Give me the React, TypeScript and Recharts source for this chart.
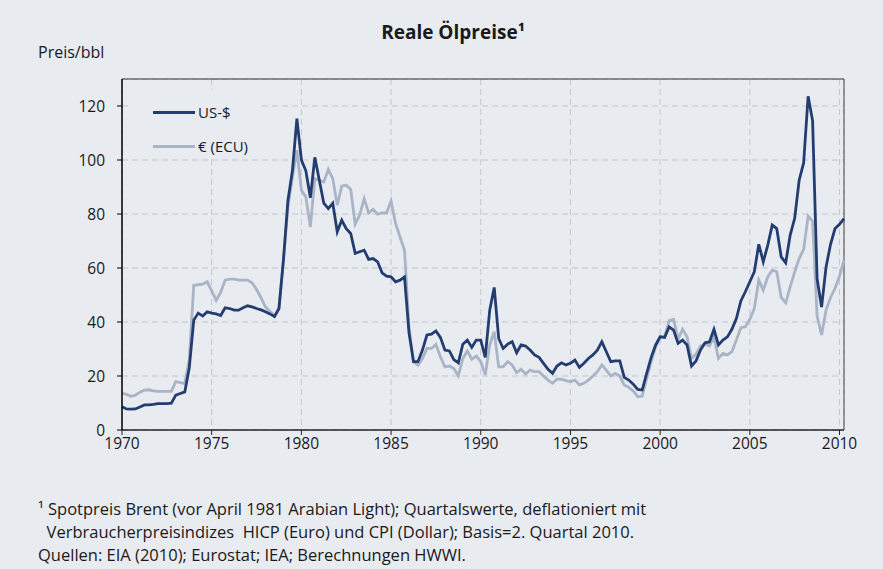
import { LineChart, Line, XAxis, YAxis, CartesianGrid, ReferenceLine, Legend } from 'recharts';

// Reale Ölpreise, Quartalswerte 1970 Q1 – 2010 Q2 (Preis je Barrel, Basis 2. Quartal 2010)
const START_YEAR = 1970;

const US_DOLLAR = [
  8.6, 7.8, 7.7, 7.8, // 1970
  8.5, 9.3, 9.3, 9.5,
  9.8, 9.8, 9.8, 9.9,
  12.9, 13.5, 14.1, 23,
  40.7, 43.3, 42.2, 43.8,
  43.3, 43, 42.4, 45.3, // 1975
  45, 44.4, 44.4, 45.3,
  46, 45.6, 45, 44.5,
  43.8, 43, 42, 45,
  63, 85, 96, 115.3,
  100, 96, 86, 101, // 1980
  92.5, 84, 82, 84,
  73.4, 77.7, 74.6, 72.8,
  65.4, 66, 66.6, 63.2,
  63.5, 62.3, 58.2, 57,
  56.7, 54.9, 55.5, 56.7, // 1985
  36, 25.3, 25.3, 29.6,
  35.2, 35.5, 36.7, 34.3,
  29.6, 29.3, 26.1, 24.9,
  31.8, 33.3, 30.6, 33.3,
  33.3, 26.9, 44.4, 52.8, // 1990
  33.9, 30.2, 31.8, 32.7,
  28.6, 31.5, 31.1, 29.6,
  27.8, 26.9, 24.7, 22.5,
  21, 23.7, 24.9, 24.1,
  24.7, 25.9, 23.2, 24.7, // 1995
  26.5, 27.8, 29.6, 32.7,
  29, 25.3, 25.6, 25.6,
  19.5, 18.5, 17, 15,
  14.8, 21, 26.9, 31.5,
  34.5, 34.3, 38.2, 37, // 2000
  32.1, 33.3, 31.5, 23.7,
  25.6, 29.6, 32.3, 32.6,
  37.3, 31.5, 33.3, 34.5,
  37.3, 41.3, 47.8, 51.2,
  54.9, 58.6, 68.8, 62.3, // 2005
  68.5, 75.9, 74.6, 64.1,
  61.9, 72.2, 78.4, 92.5,
  98.9, 123.6, 114.5, 56,
  45.5, 60.4, 68.8, 74.6,
  76.2, 78.3, // 2010
];

const EURO_ECU = [
  13.7, 13.2, 12.5, 12.9, // 1970
  14, 14.8, 14.9, 14.5,
  14.3, 14.3, 14.3, 14.3,
  18, 17.5, 17.2, 26,
  53.5, 53.8, 54, 54.9,
  51.5, 48, 51, 55.5, // 1975
  55.9, 55.9, 55.5, 55.5,
  55.5, 54.5, 52, 49,
  45.5, 44, 42.2, 45,
  63, 82.6, 93.7, 103.6,
  88.8, 86.3, 75.2, 93.1, // 1980
  92.5, 91.9, 96.5, 93.1,
  83.3, 90.3, 90.7, 89.1,
  76.2, 79.6, 85.7, 80.4,
  81.7, 79.9, 80.4, 80.4,
  84.8, 76.5, 71.5, 66.6, // 1985
  38, 25.3, 24, 26.5,
  30.2, 30.2, 31.7, 27.1,
  23.4, 23.7, 22.8, 20,
  26.5, 29.3, 26.2, 27.4,
  25.3, 20.4, 31.5, 36.4, // 1990
  23.4, 23.4, 25.3, 24.1,
  21.2, 22.5, 20.7, 22.2,
  21.6, 21.6, 20, 18.5,
  17.3, 18.8, 18.8, 18.3,
  17.9, 18.5, 16.7, 17.3, // 1995
  18.5, 20, 21.6, 24.1,
  22.2, 20, 21, 20,
  16.7, 15.8, 14.5, 12.3,
  12.6, 19.1, 25.3, 30.8,
  34.5, 34.5, 40.5, 41, // 2000
  33.6, 37.3, 34.5, 26.5,
  28.1, 31.1, 31.8, 31.1,
  34.5, 26.5, 28.4, 27.8,
  29, 33.3, 37.9, 38.2,
  41, 45, 55.5, 51.8, // 2005
  56.7, 59.2, 58.6, 49.1,
  47.1, 53, 58.6, 63.5,
  66.9, 79.2, 77.4, 42.2,
  35.2, 44.4, 49.1, 52.4,
  57, 62.9, // 2010
];

const YEAR_TICKS = [1970, 1975, 1980, 1985, 1990, 1995, 2000, 2005, 2010];
const PRICE_TICKS = [0, 20, 40, 60, 80, 100, 120];
const LEGEND_ORDER = ['US-$', '€ (ECU)'];

const FOOTNOTES = [
  '¹ Spotpreis Brent (vor April 1981 Arabian Light); Quartalswerte, deflationiert mit',
  '\u00a0\u00a0Verbraucherpreisindizes\u00a0 HICP (Euro) und CPI (Dollar); Basis=2. Quartal 2010.',
  'Quellen: EIA (2010); Eurostat; IEA; Berechnungen HWWI.',
];

const BG = '#e8ebf0';
const DARK = '#243d70';
const LIGHT = '#a9b4c7';
const FONT = '"Open Sans", Lato, sans-serif';

const chartData = US_DOLLAR.map((usd, i) => ({
  t: START_YEAR + i / 4,
  usd,
  eur: EURO_ECU[i],
}));

// Legende wie im Original: Linie + Text, US-$ zuerst
function LegendBox({ payload }: any) {
  const items = [...(payload ?? [])].sort(
    (a: any, b: any) => LEGEND_ORDER.indexOf(a.value) - LEGEND_ORDER.indexOf(b.value),
  );
  return (
    <div style={{ background: BG, width: '100%', height: '100%', paddingTop: 5, boxSizing: 'border-box', fontFamily: FONT }}>
      {items.map((p: any) => (
        <div key={p.value} style={{ display: 'flex', alignItems: 'center', height: 34, fontSize: 15, color: '#1a1a1a' }}>
          <span style={{ display: 'inline-block', width: 42, height: 3, background: p.color, marginLeft: 25, marginRight: 3 }} />
          {p.value}
        </div>
      ))}
    </div>
  );
}

export default function App() {
  return (
    <div style={{ position: 'absolute', left: 0, top: 0, width: 883, height: 569, background: BG, fontFamily: FONT, color: '#1a1a1a', overflow: 'hidden' }}>
      <div style={{ position: 'absolute', left: 0, top: 0 }}>
        <LineChart width={883} height={569} data={chartData} margin={{ top: 79, right: 39, bottom: 109, left: 62 }}>
          <CartesianGrid stroke="#c3c6cc" strokeDasharray="6 4" />
          <XAxis
            type="number"
            dataKey="t"
            domain={[1970, 2010.25]}
            ticks={YEAR_TICKS}
            height={30}
            tickSize={5}
            tickMargin={3}
            axisLine={{ stroke: '#222', strokeWidth: 1.5 }}
            tickLine={{ stroke: '#222' }}
            tick={{ fontSize: 15.5, fill: '#1a1a1a', fontFamily: FONT }}
          />
          <YAxis
            type="number"
            domain={[0, 130]}
            ticks={PRICE_TICKS}
            width={60}
            tickSize={5}
            tickMargin={12}
            axisLine={{ stroke: '#000', strokeWidth: 1.5 }}
            tickLine={{ stroke: '#000' }}
            tick={{ fontSize: 15.5, fill: '#1a1a1a', fontFamily: FONT }}
          />
          <ReferenceLine y={130} stroke="#333" strokeWidth={1} />
          <ReferenceLine x={2010.25} stroke="#444" strokeWidth={1} />
          <Legend
            layout="horizontal"
            verticalAlign="middle"
            align="center"
            content={<LegendBox />}
            wrapperStyle={{ left: 128, top: 90, width: 132, height: 68 }}
          />
          <Line
            type="linear"
            dataKey="eur"
            name="€ (ECU)"
            stroke={LIGHT}
            strokeWidth={2.8}
            dot={false}
            isAnimationActive={false}
          />
          <Line
            type="linear"
            dataKey="usd"
            name="US-$"
            stroke={DARK}
            strokeWidth={2.8}
            dot={false}
            isAnimationActive={false}
          />
        </LineChart>
      </div>
      <div style={{ position: 'absolute', left: 0, width: 906, top: 20, textAlign: 'center', fontWeight: 700, fontSize: 19, lineHeight: '24px' }}>
        Reale Ölpreise¹
      </div>
      <div style={{ position: 'absolute', left: 38, top: 42, fontSize: 16, lineHeight: '20px' }}>Preis/bbl</div>
      {FOOTNOTES.map((line, i) => (
        <div key={i} style={{ position: 'absolute', left: 38, top: 499 + i * 23, fontSize: 16.5, lineHeight: '20px', whiteSpace: 'pre' }}>
          {line}
        </div>
      ))}
    </div>
  );
}
